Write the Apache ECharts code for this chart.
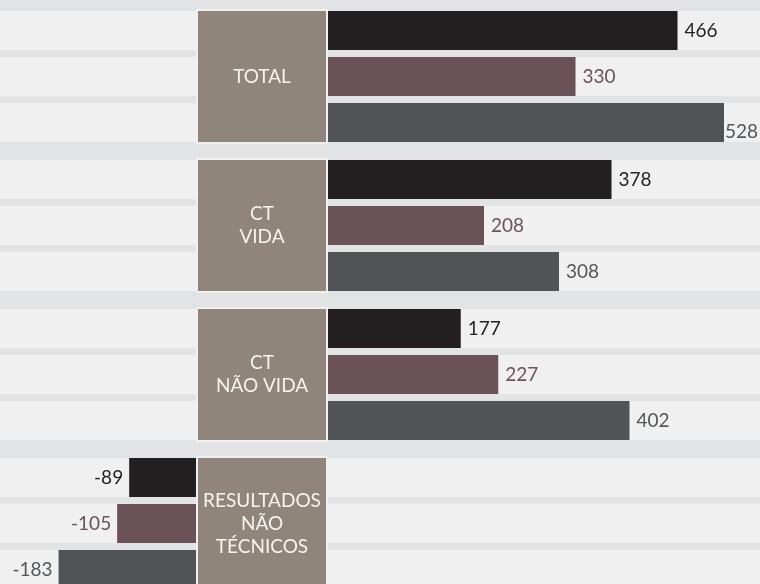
<!DOCTYPE html>
<html>
<head>
<meta charset="utf-8">
<script src="https://cdn.jsdelivr.net/npm/echarts@6/dist/echarts.min.js"></script>
<style>
html,body{margin:0;padding:0;background:#e2e3e5;}
#chart{width:760px;height:584px;}
</style>
</head>
<body>
<div id="chart"></div>
<script>
// ---- data ----
const categories = ['TOTAL', 'CT\nVIDA', 'CT\nNÃO VIDA', 'RESULTADOS\nNÃO\nTÉCNICOS'];
const seriesNames = ['Série 1', 'Série 2', 'Série 3'];
const values1 = [466, 378, 177, -89];
const values2 = [330, 208, 227, -105];
const values3 = [528, 308, 402, -183];

// ---- styling / layout ----
const seriesValues = [values1, values2, values3];
const barColors = ['#231f20', '#6a5257', '#505457'];
const labelColors = ['#231f20', '#6b5358', '#53575a'];
const FONT = 'Lato';
const FS = 19;
const groupTop0 = 7.5, groupPitch = 149, groupHeight = 138;
const leftW = 196, rightX = 328;
const leftMin = -261, rightMax = 576;

const grids = [], xAxes = [], yAxes = [], series = [];
categories.forEach((cat, g) => {
  const top = groupTop0 + g * groupPitch;
  grids.push({ left: 0, width: leftW, top: top, height: groupHeight, outerBoundsMode: 'none', containLabel: false });
  grids.push({ left: rightX, width: 760 - rightX, top: top, height: groupHeight, outerBoundsMode: 'none', containLabel: false });
  const gl = 2 * g, gr = 2 * g + 1;
  xAxes.push({ gridIndex: gl, type: 'value', min: leftMin, max: 0, show: false });
  xAxes.push({ gridIndex: gr, type: 'value', min: 0, max: rightMax, show: false });
  const hiddenY = (gi) => ({
    gridIndex: gi, type: 'category', data: seriesNames, inverse: true,
    axisLine: { show: false }, axisTick: { show: false }, axisLabel: { show: false }, splitLine: { show: false }
  });
  yAxes.push(hiddenY(gl));
  yAxes.push(hiddenY(gr));
  const nLines = cat.split('\n').length;
  const pad = (131 - nLines * 23) / 2;
  yAxes.push({
    gridIndex: gr, type: 'category', data: [cat], position: 'left',
    axisLine: { show: false }, axisTick: { show: false }, splitLine: { show: false },
    axisLabel: {
      show: true, interval: 0, margin: 66, align: 'center', verticalAlign: 'middle',
      color: '#f6f4f1', fontFamily: FONT, fontSize: FS, lineHeight: 23,
      backgroundColor: '#8f857a', borderColor: '#eff0ef', borderWidth: 2,
      width: 128, padding: [pad, 0, pad, 0]
    }
  });
  const yl = yAxes.length - 3, yr = yAxes.length - 2;
  const mk = (neg) => seriesValues.map((vals, k) => {
    const v = vals[g];
    const ok = neg ? v < 0 : v >= 0;
    return {
      value: ok ? v : '-',
      itemStyle: { color: barColors[k] },
      label: { color: labelColors[k] }
    };
  });
  const common = {
    type: 'bar', barWidth: 39, silent: true, animation: false,
    showBackground: true, backgroundStyle: { color: '#eff0ef' }
  };
  series.push(Object.assign({}, common, {
    xAxisIndex: gl, yAxisIndex: yl, data: mk(true),
    label: { show: true, position: 'left', distance: 6, fontFamily: FONT, fontSize: FS }
  }));
  series.push(Object.assign({}, common, {
    xAxisIndex: gr, yAxisIndex: yr, data: mk(false),
    label: { show: true, position: 'right', distance: 7, fontFamily: FONT, fontSize: FS },
    labelLayout: function (p) {
      const r = p.labelRect;
      if (r && r.x + r.width > 758) return { x: 758 - r.width };
      return {};
    }
  }));
});

const chart = echarts.init(document.getElementById('chart'), null, { renderer: 'canvas' });
chart.setOption({
  backgroundColor: '#e2e3e5',
  animation: false,
  grid: grids,
  xAxis: xAxes,
  yAxis: yAxes,
  series: series
});
</script>
</body>
</html>
